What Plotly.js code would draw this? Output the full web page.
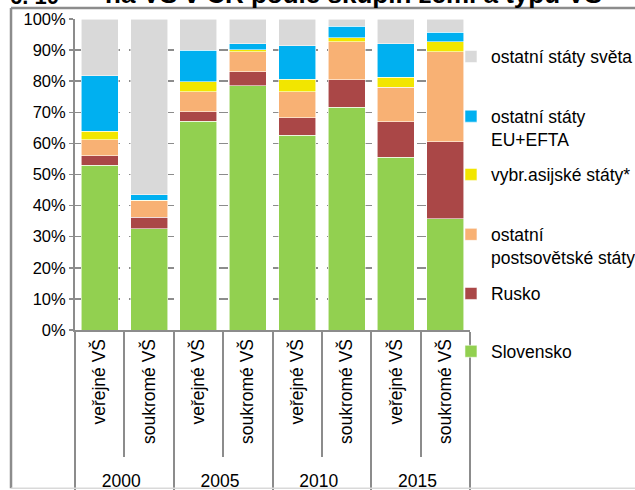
<!DOCTYPE html>
<html>
<head>
<meta charset="utf-8">
<script src="https://cdn.plot.ly/plotly-3.0.1.min.js"></script>
<style>html,body{margin:0;padding:0;background:#fff;}</style>
</head>
<body>
<div id="chart" style="width:635px;height:490px;"></div>
<script>
// Categories
const years = ['2000','2000','2005','2005','2010','2010','2015','2015'];
const types = ['\u00a0\u00a0veřejné VŠ','\u00a0\u00a0soukromé VŠ','\u00a0\u00a0veřejné VŠ','\u00a0\u00a0soukromé VŠ','\u00a0\u00a0veřejné VŠ','\u00a0\u00a0soukromé VŠ','\u00a0\u00a0veřejné VŠ','\u00a0\u00a0soukromé VŠ'];

// Series values (% shares)
const slovensko   = [53.0, 32.6, 67.1, 78.5, 62.6, 71.6, 55.6, 35.7];
const rusko       = [3.0, 3.7, 3.1, 4.5, 5.7, 8.8, 11.4, 24.8];
const postsovet   = [5.2, 5.3, 6.4, 6.5, 8.3, 12.3, 11.0, 29.0];
const asijske     = [2.7, 0.1, 3.2, 0.6, 4.0, 1.3, 3.2, 3.2];
const euEfta      = [17.8, 1.8, 10.2, 2.0, 10.8, 3.7, 10.8, 3.1];
const ostatniSvet = [18.3, 56.5, 10.0, 7.9, 8.6, 2.3, 8.0, 4.2];

const seriesNames = ['Slovensko','Rusko','ostatní<br>postsovětské státy','vybr.asijské státy*','ostatní státy<br>EU+EFTA','ostatní státy světa'];
const seriesValues = [slovensko, rusko, postsovet, asijske, euEfta, ostatniSvet];
const seriesColors = ['#92D050','#AA4747','#F8B174','#F2E600','#00B0F0','#D9D9D9'];
const legendTops = [0.3196, 0.4376, 0.5582, 0.6806, 0.7994, 0.9212];

const font = 'Liberation Sans, Arial, sans-serif';

const traces = seriesValues.map((vals, i) => ({
  type: 'bar',
  name: seriesNames[i],
  x: [years, types],
  y: vals,
  marker: {color: seriesColors[i], line: {color: 'rgba(255,255,255,0.7)', width: 0.8}},
  legend: 'legend' + (i + 2),
  hoverinfo: 'y+name'
}));

const layout = {
  width: 635, height: 490,
  margin: {l: 75, r: 165, t: 19, b: 160, autoexpand: false},
  paper_bgcolor: '#ffffff', plot_bgcolor: '#ffffff',
  barmode: 'stack', bargap: 0.25,
  font: {family: font, color: '#000', size: 17.5},
  xaxis: {
    type: 'multicategory', automargin: false,
    tickangle: -90,
    tickfont: {family: font, size: 17.5, color: '#000'},
    ticks: 'outside', tickson: 'boundaries', ticklen: 125, tickcolor: '#8c8c8c', tickwidth: 2,
    showdividers: true, dividercolor: '#8c8c8c', dividerwidth: 2,
    showline: true, linecolor: '#8c8c8c', linewidth: 2,
    showgrid: false
  },
  yaxis: {
    range: [0, 100], dtick: 10, ticksuffix: '%', automargin: false,
    tickfont: {family: font, size: 16.5, color: '#000'},
    showgrid: true, gridcolor: '#8c8c8c', griddash: 'dash', gridwidth: 1.5,
    zeroline: false,
    showline: true, linecolor: '#8c8c8c', linewidth: 2,
    ticks: 'outside', ticklen: 4, tickcolor: '#8c8c8c', tickwidth: 1.5
  },
  annotations: [
    {text: '<b>6. 10</b>', xref: 'paper', yref: 'paper', x: -0.17, y: 1.027, xanchor: 'left', yanchor: 'bottom', showarrow: false, font: {family: font, size: 22, color: '#000'}},
    {text: '<b>na VŠ v ČR podle skupin zemí a typu VŠ</b>', xref: 'paper', yref: 'paper', x: 0.07, y: 1.025, xanchor: 'left', yanchor: 'bottom', showarrow: false, font: {family: font, size: 26, color: '#000'}}
  ],
  shapes: [
    {type: 'line', xref: 'paper', yref: 'paper', x0: -0.162, x1: 1.5, y0: 1.0354, y1: 1.0354, line: {color: '#8c8c8c', width: 2.5}},
    {type: 'line', xref: 'paper', yref: 'paper', x0: -0.162, x1: -0.162, y0: 1.0354, y1: -0.509, line: {color: '#8c8c8c', width: 2.5}},
    {type: 'line', xref: 'paper', yref: 'paper', x0: -0.162, x1: 1.5, y0: -0.509, y1: -0.509, line: {color: '#d9d9d9', width: 1.5}}
  ],
  legend: {visible: false}
};

legendTops.forEach((y, i) => {
  layout['legend' + (i + 2)] = {
    xref: 'container', yref: 'container',
    x: 0.7102, xanchor: 'left', y: y, yanchor: 'top',
    bgcolor: 'rgba(0,0,0,0)', borderwidth: 0,
    font: {family: font, size: 17.5, color: '#000'},
    valign: 'top', itemclick: false, itemdoubleclick: false
  };
});

Plotly.newPlot('chart', traces, layout, {displayModeBar: false, staticPlot: true});
</script>
</body>
</html>
